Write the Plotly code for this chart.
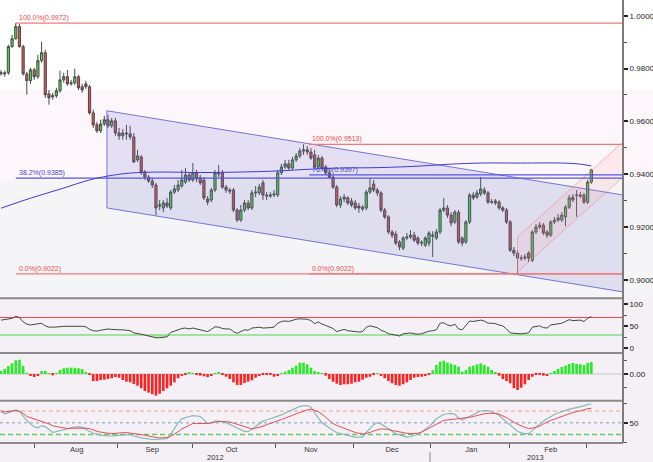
import pandas as pd
import plotly.graph_objects as go
from plotly.subplots import make_subplots

# ---------------- data ----------------
dates = pd.bdate_range(end="2013-03-01", periods=161, freq="C",
                       holidays=["2012-12-25", "2013-01-01"])

open_ = [0.9780,0.9784,0.9784,0.9883,0.9913,0.9959,0.9883,0.9780,0.9754,0.9795,
         0.9769,0.9830,0.9860,0.9704,0.9693,0.9697,0.9716,0.9757,0.9769,0.9742,
         0.9746,0.9769,0.9731,0.9742,0.9731,0.9632,0.9587,0.9564,0.9590,0.9606,
         0.9583,0.9602,0.9556,0.9545,0.9556,0.9553,0.9541,0.9454,0.9465,0.9408,
         0.9389,0.9374,0.9359,0.9279,0.9272,0.9291,0.9272,0.9332,0.9340,0.9355,
         0.9370,0.9397,0.9378,0.9405,0.9386,0.9378,0.9306,0.9302,0.9340,0.9405,
         0.9405,0.9351,0.9340,0.9340,0.9264,0.9226,0.9264,0.9291,0.9272,0.9329,
         0.9329,0.9367,0.9321,0.9317,0.9321,0.9321,0.9405,0.9427,0.9439,0.9423,
         0.9454,0.9469,0.9488,0.9492,0.9484,0.9473,0.9427,0.9461,0.9427,0.9405,
         0.9389,0.9351,0.9283,0.9306,0.9310,0.9298,0.9291,0.9279,0.9268,0.9272,
         0.9332,0.9363,0.9340,0.9329,0.9264,0.9238,0.9181,0.9173,0.9143,0.9120,
         0.9158,0.9162,0.9169,0.9158,0.9139,0.9131,0.9139,0.9165,0.9158,0.9181,
         0.9264,0.9272,0.9245,0.9219,0.9256,0.9158,0.9143,0.9219,0.9321,0.9313,
         0.9325,0.9340,0.9329,0.9294,0.9298,0.9294,0.9272,0.9264,0.9219,0.9112,
         0.9101,0.9082,0.9082,0.9101,0.9074,0.9181,0.9200,0.9207,0.9181,0.9169,
         0.9219,0.9226,0.9226,0.9238,0.9275,0.9313,0.9321,0.9321,0.9321,0.9294,
         0.9370]
close_ = [0.9784,0.9780,0.9883,0.9913,0.9959,0.9883,0.9780,0.9754,0.9795,0.9769,
          0.9830,0.9860,0.9701,0.9689,0.9697,0.9716,0.9757,0.9769,0.9742,0.9746,
          0.9769,0.9727,0.9719,0.9731,0.9632,0.9587,0.9564,0.9590,0.9606,0.9583,
          0.9602,0.9556,0.9545,0.9556,0.9553,0.9541,0.9446,0.9469,0.9408,0.9389,
          0.9374,0.9359,0.9272,0.9283,0.9291,0.9279,0.9332,0.9344,0.9359,0.9378,
          0.9397,0.9378,0.9405,0.9382,0.9367,0.9310,0.9294,0.9340,0.9405,0.9401,
          0.9351,0.9340,0.9336,0.9264,0.9226,0.9264,0.9291,0.9272,0.9329,0.9332,
          0.9351,0.9321,0.9317,0.9321,0.9325,0.9405,0.9427,0.9439,0.9423,0.9454,
          0.9469,0.9488,0.9492,0.9484,0.9461,0.9427,0.9461,0.9423,0.9405,0.9389,
          0.9351,0.9283,0.9306,0.9313,0.9291,0.9283,0.9272,0.9272,0.9275,0.9332,
          0.9348,0.9340,0.9329,0.9264,0.9238,0.9181,0.9169,0.9139,0.9124,0.9158,
          0.9162,0.9169,0.9150,0.9139,0.9141,0.9158,0.9177,0.9169,0.9181,0.9264,
          0.9272,0.9245,0.9215,0.9256,0.9143,0.9139,0.9219,0.9321,0.9310,0.9329,
          0.9344,0.9329,0.9294,0.9295,0.9291,0.9272,0.9264,0.9219,0.9112,0.9101,
          0.9082,0.9081,0.9086,0.9082,0.9181,0.9200,0.9207,0.9177,0.9169,0.9219,
          0.9226,0.9234,0.9245,0.9275,0.9310,0.9302,0.9320,0.9317,0.9294,0.9370,
          0.9416]
high_ = [0.9795,0.9792,0.9890,0.9928,0.9972,0.9968,0.9890,0.9788,0.9803,0.9803,
         0.9852,0.9902,0.9871,0.9719,0.9708,0.9727,0.9792,0.9784,0.9795,0.9757,
         0.9799,0.9776,0.9742,0.9754,0.9738,0.9644,0.9598,0.9606,0.9621,0.9625,
         0.9613,0.9613,0.9575,0.9571,0.9587,0.9583,0.9556,0.9492,0.9473,0.9416,
         0.9397,0.9386,0.9367,0.9302,0.9302,0.9310,0.9340,0.9359,0.9378,0.9416,
         0.9423,0.9408,0.9442,0.9416,0.9397,0.9389,0.9317,0.9348,0.9416,0.9435,
         0.9416,0.9359,0.9348,0.9348,0.9272,0.9283,0.9302,0.9302,0.9340,0.9355,
         0.9363,0.9378,0.9332,0.9332,0.9340,0.9416,0.9439,0.9454,0.9454,0.9465,
         0.9480,0.9499,0.9513,0.9507,0.9499,0.9492,0.9473,0.9469,0.9435,0.9416,
         0.9397,0.9359,0.9317,0.9325,0.9317,0.9310,0.9302,0.9291,0.9283,0.9340,
         0.9386,0.9378,0.9348,0.9336,0.9272,0.9245,0.9188,0.9184,0.9150,0.9165,
         0.9177,0.9188,0.9181,0.9165,0.9150,0.9165,0.9184,0.9184,0.9192,0.9272,
         0.9310,0.9283,0.9256,0.9264,0.9264,0.9165,0.9226,0.9329,0.9332,0.9340,
         0.9389,0.9351,0.9336,0.9306,0.9306,0.9302,0.9279,0.9272,0.9226,0.9124,
         0.9112,0.9093,0.9097,0.9108,0.9188,0.9211,0.9219,0.9215,0.9188,0.9226,
         0.9238,0.9249,0.9256,0.9283,0.9321,0.9325,0.9340,0.9332,0.9329,0.9378,
         0.9420]
low_ = [0.9773,0.9769,0.9776,0.9879,0.9909,0.9879,0.9773,0.9701,0.9742,0.9757,
        0.9761,0.9822,0.9689,0.9663,0.9682,0.9689,0.9708,0.9746,0.9735,0.9735,
        0.9738,0.9719,0.9708,0.9723,0.9625,0.9575,0.9556,0.9556,0.9583,0.9575,
        0.9575,0.9545,0.9530,0.9530,0.9530,0.9530,0.9442,0.9446,0.9397,0.9378,
        0.9367,0.9348,0.9245,0.9264,0.9256,0.9272,0.9264,0.9325,0.9332,0.9348,
        0.9363,0.9370,0.9370,0.9370,0.9359,0.9302,0.9283,0.9294,0.9332,0.9389,
        0.9344,0.9329,0.9325,0.9256,0.9219,0.9219,0.9256,0.9264,0.9264,0.9313,
        0.9321,0.9302,0.9302,0.9310,0.9313,0.9313,0.9397,0.9420,0.9416,0.9416,
        0.9446,0.9461,0.9473,0.9473,0.9454,0.9420,0.9420,0.9416,0.9397,0.9382,
        0.9344,0.9275,0.9272,0.9294,0.9283,0.9275,0.9264,0.9253,0.9260,0.9264,
        0.9325,0.9332,0.9317,0.9256,0.9230,0.9173,0.9158,0.9131,0.9112,0.9112,
        0.9150,0.9154,0.9143,0.9131,0.9127,0.9124,0.9127,0.9086,0.9150,0.9173,
        0.9256,0.9234,0.9203,0.9211,0.9135,0.9127,0.9135,0.9211,0.9302,0.9306,
        0.9317,0.9321,0.9287,0.9287,0.9283,0.9264,0.9256,0.9211,0.9105,0.9090,
        0.9022,0.9071,0.9074,0.9067,0.9067,0.9173,0.9192,0.9169,0.9158,0.9162,
        0.9211,0.9219,0.9219,0.9203,0.9268,0.9294,0.9238,0.9310,0.9287,0.9287,
        0.9363]

ma_dates = ["2012-07-18","2012-07-30","2012-08-09","2012-08-21","2012-08-28",
            "2012-09-05","2012-09-17","2012-10-02","2012-10-17","2012-10-31",
            "2012-11-13","2012-11-23","2012-12-10","2012-12-26","2013-01-08",
            "2013-01-18","2013-02-04","2013-02-19","2013-02-26","2013-03-01"]
ma_values = [0.9271,0.9309,0.9343,0.9378,0.9393,0.9404,0.9408,0.9406,0.9408,0.9412,
             0.9419,0.9423,0.9425,0.9431,0.9438,0.9442,0.9442,0.9442,0.9438,0.9431]

rsi = [64,65,67,68,73,70,60,55,53,54, 55,57,51,48,48,48,49,50,50,51,
       51,50,50,49,43,40,39,41,43,44, 43,42,42,42,41,40,35,34,32,30,
       28,27,24,24,25,26,36,39,42,45, 46,44,46,44,43,40,38,43,49,48,
       45,44,44,38,34,38,42,41,46,47, 48,46,46,47,48,57,61,62,61,64,
       66,67,67,66,63,56,60,55,52,49, 45,38,41,43,40,39,37,37,38,48,
       51,49,47,41,38,33,32,30,28,33, 34,35,33,32,33,36,39,40,42,57,
       58,53,51,55,44,42,52,62,61,63, 64,62,57,57,56,53,51,44,35,34,
       33,33,34,35,48,50,51,47,46,53, 54,55,57,61,65,63,64,64,61,68, 72]

hist = [4.3,7.2,11.4,15.3,19.6,20.4,11.4,0.7,-2.9,-4.3,
        -2.9,4.3,4.3,0.3,-1.9,0.4,5.7,8.2,9.0,9.0,
        9.0,8.2,7.2,2.4,-0.4,-10.0,-10.0,-8.6,-8.2,-7.2,
        -6.1,-4.3,-5.3,-8.6,-11.0,-11.9,-14.3,-16.7,-20.4,-24.3,
        -26.7,-29.0,-31.0,-28.2,-24.3,-20.4,-16.7,-11.9,-6.1,-2.9,
        -0.4,2.4,1.4,-0.4,-2.4,-3.3,-4.3,-2.9,0.4,2.4,
        -0.4,-3.9,-7.2,-11.9,-15.7,-15.7,-12.9,-11.0,-9.0,-5.3,
        -2.9,-1.4,-1.0,-1.4,-3.9,-2.9,0.4,3.3,5.7,9.0,
        11.9,16.2,16.2,13.9,9.0,4.3,2.4,0.4,-2.4,-7.2,
        -11.0,-13.9,-15.7,-14.7,-14.7,-13.9,-11.9,-11.0,-8.2,-5.3,
        -3.9,-0.4,0.4,-2.9,-6.1,-10.0,-13.3,-15.7,-16.7,-14.7,
        -11.9,-8.6,-5.3,-4.3,-3.9,-2.9,-0.4,5.3,12.9,17.6,
        19.0,16.2,14.7,12.9,10.4,3.3,5.7,10.4,11.9,13.9,
        15.3,12.9,10.4,5.7,2.4,-2.4,-7.2,-10.0,-13.3,-20.4,
        -22.9,-19.6,-14.7,-8.6,-3.9,-1.4,-0.4,-2.4,-2.9,0.4,
        4.3,7.2,10.0,11.9,14.3,15.7,14.3,13.9,12.9,15.7, 17.2]

stoch_k = [83,72,76,80,83,80,68,55,47,40, 37,42,40,32,25,27,30,33,35,37,
           39,40,38,34,28,23,20,18,17,16, 16,17,18,18,19,20,16,13,11,10,
           8,7,7,8,9,9,20,35,50,60, 64,66,68,67,66,58,48,50,54,54,
           53,50,46,42,38,33,28,27,34,42, 49,54,57,60,62,65,70,75,79,84,
           89,92,93,94,90,75,62,50,43,38, 30,25,22,19,17,15,13,13,13,25,
           36,45,50,47,41,35,28,22,19,16, 13,14,17,21,26,33,40,50,60,66,
           71,73,74,72,62,57,62,67,72,77, 80,81,81,78,74,69,60,52,42,34,
           28,24,22,22,30,40,47,54,60,66, 71,75,79,83,85,87,89,91,93,97, 98]
stoch_d = [77,78,79,80,81,79,74,66,63,60, 56,54,51,47,42,40,38,36,35,36,
           36,37,37,36,35,31,28,26,24,23, 22,23,24,25,25,23,22,21,20,18,
           16,13,12,11,11,12,15,20,27,34, 39,44,48,48,48,48,48,50,52,53,
           53,53,52,49,46,43,38,35,34,36, 38,41,45,49,52,55,58,61,64,69,
           73,77,80,83,85,82,78,72,64,57, 48,43,39,35,31,27,25,23,21,22,
           26,30,32,34,34,33,30,28,26,24, 23,22,22,23,26,31,37,42,47,52,
           56,57,58,59,60,61,62,64,66,69, 71,73,74,74,74,72,68,63,57,51,
           46,42,38,35,36,38,41,47,52,56, 59,63,66,70,73,76,78,80,83,86, 87]

# drawing-tool objects
fib1_start = "2012-07-24"
fib1_levels = [0.9972, 0.9385, 0.9022]
fib1_labels = ["100.0%(0.9972)", "38.2%(0.9385)", "0.0%(0.9022)"]
fib2_start = "2012-11-12 12:00"
fib2_levels = [0.9513, 0.9397, 0.9022]
fib2_labels = ["100.0%(0.9513)", "76.4%(0.9397)", "0.0%(0.9022)"]

x_start = "2012-07-17 17:30"
x_end = "2013-03-13 14:00"
down_chan_x = ["2012-08-27 17:00", x_end, x_end, "2012-08-27 17:00", "2012-08-27 17:00"]
down_chan_y = [0.9640, 0.9321, 0.8954, 0.9272, 0.9640]
up_chan_x = ["2013-02-01", x_end, x_end, "2013-02-01", "2013-02-01"]
up_chan_y = [0.9162, 0.9522, 0.9389, 0.9029, 0.9162]

month_labels = ["Aug", "Sep", "Oct", "Nov", "Dec", "Jan", "Feb"]
month_label_dates = ["2012-08-15 12:00", "2012-09-13", "2012-10-12 12:00", "2012-11-13",
                     "2012-12-13", "2013-01-15 12:00", "2013-02-14"]
month_tick_dates = ["2012-07-31 05:00", "2012-08-30 17:00", "2012-09-27 19:00",
                    "2012-10-30 07:00", "2012-11-28 10:00", "2012-12-28 07:00",
                    "2013-01-29 17:00", "2013-02-27 19:00"]

# ---------------- figure ----------------
H = 443.0  # plot-area height in px


def py(px):
    return 1 - px / H


RED_FIB = "#f07a7a"
BLUE_FIB = "#5555dd"
FONT = "Liberation Sans"

fig = make_subplots(rows=4, cols=1, shared_xaxes=True, vertical_spacing=0)

# main panel
fig.add_trace(go.Scatter(x=down_chan_x, y=down_chan_y, mode="lines", fill="toself",
                         fillcolor="rgba(110,110,205,0.17)",
                         line=dict(color="rgba(95,95,215,0.85)", width=1),
                         hoverinfo="skip", showlegend=False), row=1, col=1)
fig.add_trace(go.Scatter(x=up_chan_x, y=up_chan_y, mode="lines", fill="toself",
                         fillcolor="rgba(255,150,150,0.13)",
                         line=dict(color="rgba(240,140,140,0.6)", width=1),
                         hoverinfo="skip", showlegend=False), row=1, col=1)
for start, levels in ((fib1_start, fib1_levels), (fib2_start, fib2_levels)):
    for lv in levels:
        col = BLUE_FIB if (lv not in (levels[0], levels[-1])) else RED_FIB
        fig.add_trace(go.Scatter(x=[start, x_end], y=[lv, lv], mode="lines",
                                 line=dict(color=col, width=1.2),
                                 hoverinfo="skip", showlegend=False), row=1, col=1)
fig.add_trace(go.Scatter(x=ma_dates, y=ma_values, mode="lines",
                         line=dict(color="#3b3bd8", width=1, shape="spline"),
                         hoverinfo="skip", showlegend=False), row=1, col=1)
fig.add_trace(go.Candlestick(x=dates, open=open_, high=high_, low=low_, close=close_,
                             increasing=dict(fillcolor="#3fe03f", line=dict(color="#4a4a4a", width=1)),
                             decreasing=dict(fillcolor="#e05252", line=dict(color="#4a4a4a", width=1)),
                             whiskerwidth=0, showlegend=False), row=1, col=1)

# RSI panel
n = len(rsi)
fig.add_trace(go.Scatter(x=dates, y=[30] * n, mode="lines", line=dict(width=0),
                         hoverinfo="skip", showlegend=False), row=2, col=1)
fig.add_trace(go.Scatter(x=dates, y=[min(v, 30) for v in rsi], mode="lines", line=dict(width=0),
                         fill="tonexty", fillcolor="rgba(120,230,120,0.55)",
                         hoverinfo="skip", showlegend=False), row=2, col=1)
fig.add_trace(go.Scatter(x=dates, y=[70] * n, mode="lines", line=dict(width=0),
                         hoverinfo="skip", showlegend=False), row=2, col=1)
fig.add_trace(go.Scatter(x=dates, y=[max(v, 70) for v in rsi], mode="lines", line=dict(width=0),
                         fill="tonexty", fillcolor="rgba(250,140,140,0.5)",
                         hoverinfo="skip", showlegend=False), row=2, col=1)
fig.add_trace(go.Scatter(x=dates, y=rsi, mode="lines", line=dict(color="#454545", width=1),
                         hoverinfo="skip", showlegend=False), row=2, col=1)

# histogram panel
fig.add_trace(go.Bar(x=dates, y=hist,
                     marker=dict(color=["#22ee22" if v >= 0 else "#ff2020" for v in hist],
                                 line=dict(width=0)),
                     hoverinfo="skip", showlegend=False), row=3, col=1)

# stochastic panel
fig.add_trace(go.Scatter(x=dates, y=stoch_k, mode="lines", line=dict(color="#86b9bd", width=1.2),
                         hoverinfo="skip", showlegend=False), row=4, col=1)
fig.add_trace(go.Scatter(x=dates, y=stoch_d, mode="lines", line=dict(color="#e45050", width=1),
                         hoverinfo="skip", showlegend=False), row=4, col=1)

rb = [dict(bounds=["sat", "mon"]), dict(values=["2012-12-25", "2013-01-01"])]
fig.update_xaxes(rangebreaks=rb, range=[x_start, x_end], showgrid=False, zeroline=False,
                 showline=False, rangeslider_visible=False, ticks="")
fig.update_xaxes(row=4, col=1, tickmode="array", tickvals=month_label_dates, ticktext=month_labels,
                 ticks="", tickfont=dict(size=7.5, color="#333", family=FONT),
                 minor=dict(tickmode="array", tickvals=month_tick_dates, ticks="outside",
                            ticklen=4, tickwidth=1, tickcolor="#555"))

yax_common = dict(side="right", showgrid=False, zeroline=False, showline=False,
                  ticks="outside", ticklen=4, tickwidth=2, tickcolor="#222",
                  tickfont=dict(size=8, color="#222", family=FONT))
fig.update_yaxes(**yax_common)
fig.update_layout(
    yaxis=dict(domain=[py(297.5), 1], range=[0.89328, 1.00596], tickmode="array",
               tickvals=[0.90, 0.92, 0.94, 0.96, 0.98, 1.00], tickformat=".4f",
               minor=dict(tickmode="array", tickvals=[0.91, 0.93, 0.95, 0.97, 0.99],
                          ticks="outside", ticklen=3, tickwidth=1, tickcolor="#555")),
    yaxis2=dict(domain=[py(352), py(299.5)], range=[-8.4, 110.9], tickmode="array",
                tickvals=[0, 50, 100],
                minor=dict(tickmode="array", tickvals=[25, 75], ticks="outside",
                           ticklen=3, tickwidth=1, tickcolor="#555")),
    yaxis3=dict(domain=[py(400), py(354)], range=[-37.2, 28.6], tickmode="array",
                tickvals=[0], tickformat=".2f",
                minor=dict(tickmode="array", tickvals=[-20, 20], ticks="outside",
                           ticklen=3, tickwidth=1, tickcolor="#555")),
    yaxis4=dict(domain=[0, py(401.5)], range=[-2, 104.4], tickmode="array",
                tickvals=[50],
                minor=dict(tickmode="array", tickvals=[0, 100], ticks="outside",
                           ticklen=3, tickwidth=1, tickcolor="#555")),
)

shapes = []
# background bands of the price panel
for y0, y1, c in ((0, 90, "#ffffff"), (90, 180, "#fdf6fb"), (180, 297.5, "#f5f4f6")):
    shapes.append(dict(type="rect", xref="paper", yref="paper", x0=0, x1=653 / 623.0,
                       y0=py(y1), y1=py(y0), fillcolor=c, line=dict(width=0), layer="below"))
# RSI levels
shapes.append(dict(type="line", xref="x2 domain", yref="y2", x0=0, x1=1, y0=70, y1=70,
                   line=dict(color="#f04848", width=1), layer="below"))
shapes.append(dict(type="line", xref="x2 domain", yref="y2", x0=0, x1=1, y0=30, y1=30,
                   line=dict(color="#80e080", width=1.5), layer="below"))
# histogram zero line
shapes.append(dict(type="line", xref="x3 domain", yref="y3", x0=0, x1=1, y0=0, y1=0,
                   line=dict(color="#dcdcdc", width=2), layer="below"))
# stochastic levels
shapes.append(dict(type="line", xref="x4 domain", yref="y4", x0=0, x1=1, y0=80, y1=80,
                   line=dict(color="#f2a090", width=1, dash="4px,3px"), layer="below"))
shapes.append(dict(type="line", xref="x4 domain", yref="y4", x0=0, x1=1, y0=50, y1=50,
                   line=dict(color="#a4bcd8", width=1.5, dash="dot"), layer="below"))
shapes.append(dict(type="line", xref="x4 domain", yref="y4", x0=0, x1=1, y0=20, y1=20,
                   line=dict(color="#62cc62", width=1.5, dash="5px,3px"), layer="below"))
# panel separators, bottom axis line, right axis line
for ypx in (298.3, 353, 400.7, 443):
    shapes.append(dict(type="line", xref="paper", yref="paper", x0=0, x1=1,
                       y0=py(ypx), y1=py(ypx), line=dict(color="#8a8a8a", width=2)))
shapes.append(dict(type="line", xref="paper", yref="paper", x0=1, x1=1, y0=0, y1=1,
                   line=dict(color="#7c7c7c", width=2)))
# year separator
shapes.append(dict(type="line", xref="paper", yref="paper", x0=430 / 623.0, x1=430 / 623.0,
                   y0=py(452), y1=py(462), line=dict(color="#888", width=1)))

annotations = []
for start, levels, labels in ((fib1_start, fib1_levels, fib1_labels),
                              (fib2_start, fib2_levels, fib2_labels)):
    for lv, lab in zip(levels, labels):
        col = "#4646c8" if (lv not in (levels[0], levels[-1])) else "#ee4848"
        annotations.append(dict(x=start, y=lv, xref="x", yref="y", text=lab,
                                showarrow=False, xanchor="left", yanchor="bottom",
                                xshift=1, yshift=-1,
                                font=dict(size=7, color=col, family=FONT)))
for txt, xpx in (("2012", 215), ("2013", 535)):
    annotations.append(dict(x=xpx / 623.0, y=py(457.5), xref="paper", yref="paper", text=txt,
                            showarrow=False, xanchor="center", yanchor="middle",
                            font=dict(size=7.5, color="#333", family=FONT)))

fig.update_layout(
    width=653, height=462,
    margin=dict(l=0, r=30, t=0, b=19),
    template="none",
    paper_bgcolor="#f5f0f5",
    plot_bgcolor="rgba(0,0,0,0)",
    font=dict(family=FONT, size=8, color="#222"),
    showlegend=False,
    bargap=0.3,
    boxgap=0.15,
    shapes=shapes,
    annotations=annotations,
    hovermode=False,
)

fig.write_html("out.html", config={"displayModeBar": False},
               post_script="document.body.style.margin='0px';document.body.style.padding='0px';")
